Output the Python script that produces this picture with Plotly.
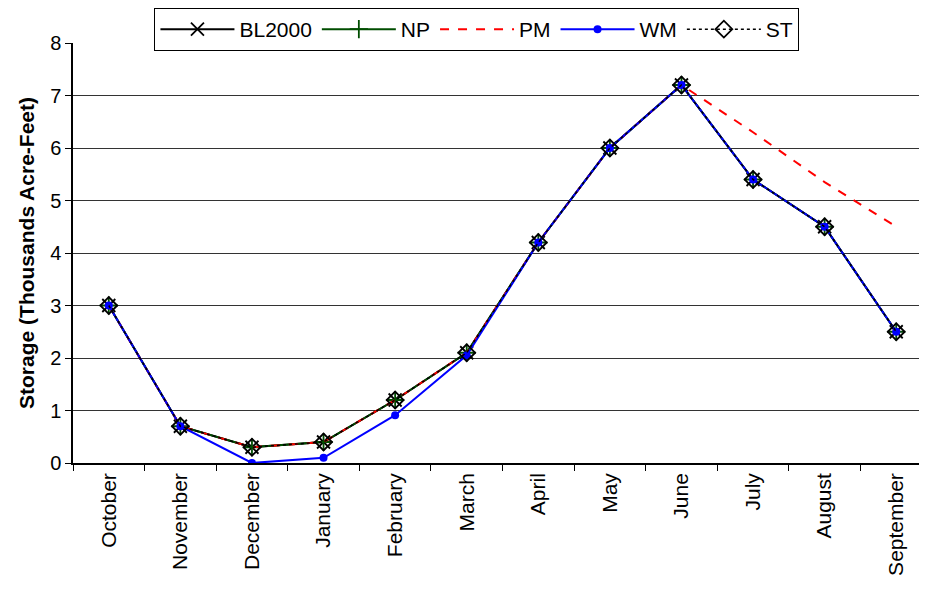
"""Monthly storage by alternative, redrawn with plotly"""

import plotly.graph_objects as go

months = ["October", "November", "December", "January", "February", "March",
          "April", "May", "June", "July", "August", "September"]

bl2000 = [3.0, 0.7, 0.3, 0.4, 1.2, 2.1, 4.2, 6.0, 7.2, 5.4, 4.5, 2.5]
np_vals = [3.0, 0.7, 0.3, 0.4, 1.2, 2.1, 4.2, 6.0, 7.2, 5.4, 4.5, 2.5]
pm = [3.0, 0.7, 0.3, 0.4, 1.2, 2.1, 4.2, 6.0, 7.2, 6.3, 5.35, 4.5]
wm = [3.0, 0.7, 0.0, 0.1, 0.91, 2.05, 4.2, 6.0, 7.2, 5.4, 4.5, 2.5]
st = [3.0, 0.7, 0.3, 0.4, 1.2, 2.1, 4.2, 6.0, 7.2, 5.4, 4.5, 2.5]

fig = go.Figure()

fig.add_trace(go.Scatter(
    x=months, y=bl2000, name="BL2000", mode="lines+markers",
    line={"color": "black", "width": 2},
    marker={"symbol": "x-thin-open", "size": 13, "line": {"color": "black", "width": 1.8}},
))
fig.add_trace(go.Scatter(
    x=months, y=np_vals, name="NP", mode="lines+markers",
    line={"color": "#004d00", "width": 2},
    marker={"symbol": "cross-thin-open", "size": 13, "line": {"color": "#004d00", "width": 1.8}},
))
fig.add_trace(go.Scatter(
    x=months, y=pm, name="PM", mode="lines",
    line={"color": "red", "width": 2, "dash": "dash"},
))
fig.add_trace(go.Scatter(
    x=months, y=wm, name="WM", mode="lines+markers",
    line={"color": "blue", "width": 2},
    marker={"symbol": "circle", "size": 8, "color": "blue"},
))
fig.add_trace(go.Scatter(
    x=months, y=st, name="ST", mode="lines+markers",
    line={"color": "black", "width": 1.5, "dash": "dot"},
    marker={"symbol": "diamond-open", "size": 13, "line": {"color": "black", "width": 1.8}},
))

# page body adds 8px around the figure, margins allow for that
fig.update_layout(
    width=927,
    height=590,
    margin={"l": 65, "r": 8, "t": 35, "b": 135, "autoexpand": False},
    paper_bgcolor="white",
    plot_bgcolor="white",
    font={"family": "Liberation Sans, Arial, sans-serif", "size": 20, "color": "black"},
    legend={
        "orientation": "h",
        "x": 0.473, "xanchor": "center",
        "yref": "container", "y": 1.0, "yanchor": "top",
        "bordercolor": "black", "borderwidth": 1,
        "font": {"size": 21},
        "itemwidth": 74,
    },
)

fig.update_xaxes(
    range=[-0.5, 11.43],
    tickangle=-90,
    showgrid=False,
    showline=True, linecolor="black", linewidth=1.5,
    ticks="outside", tickson="boundaries", ticklen=6, tickcolor="black",
    tickfont={"size": 21},
)
fig.update_yaxes(
    range=[0, 8],
    dtick=1,
    showgrid=True, gridcolor="#333333", gridwidth=1,
    showline=True, linecolor="black", linewidth=1.5,
    ticks="outside", ticklen=6, tickcolor="black",
    zeroline=False,
    tickfont={"size": 20},
    title={"text": "<b>Storage (Thousands Acre-Feet)</b>", "font": {"size": 21}, "standoff": 10},
)

fig.write_html("out.html")
